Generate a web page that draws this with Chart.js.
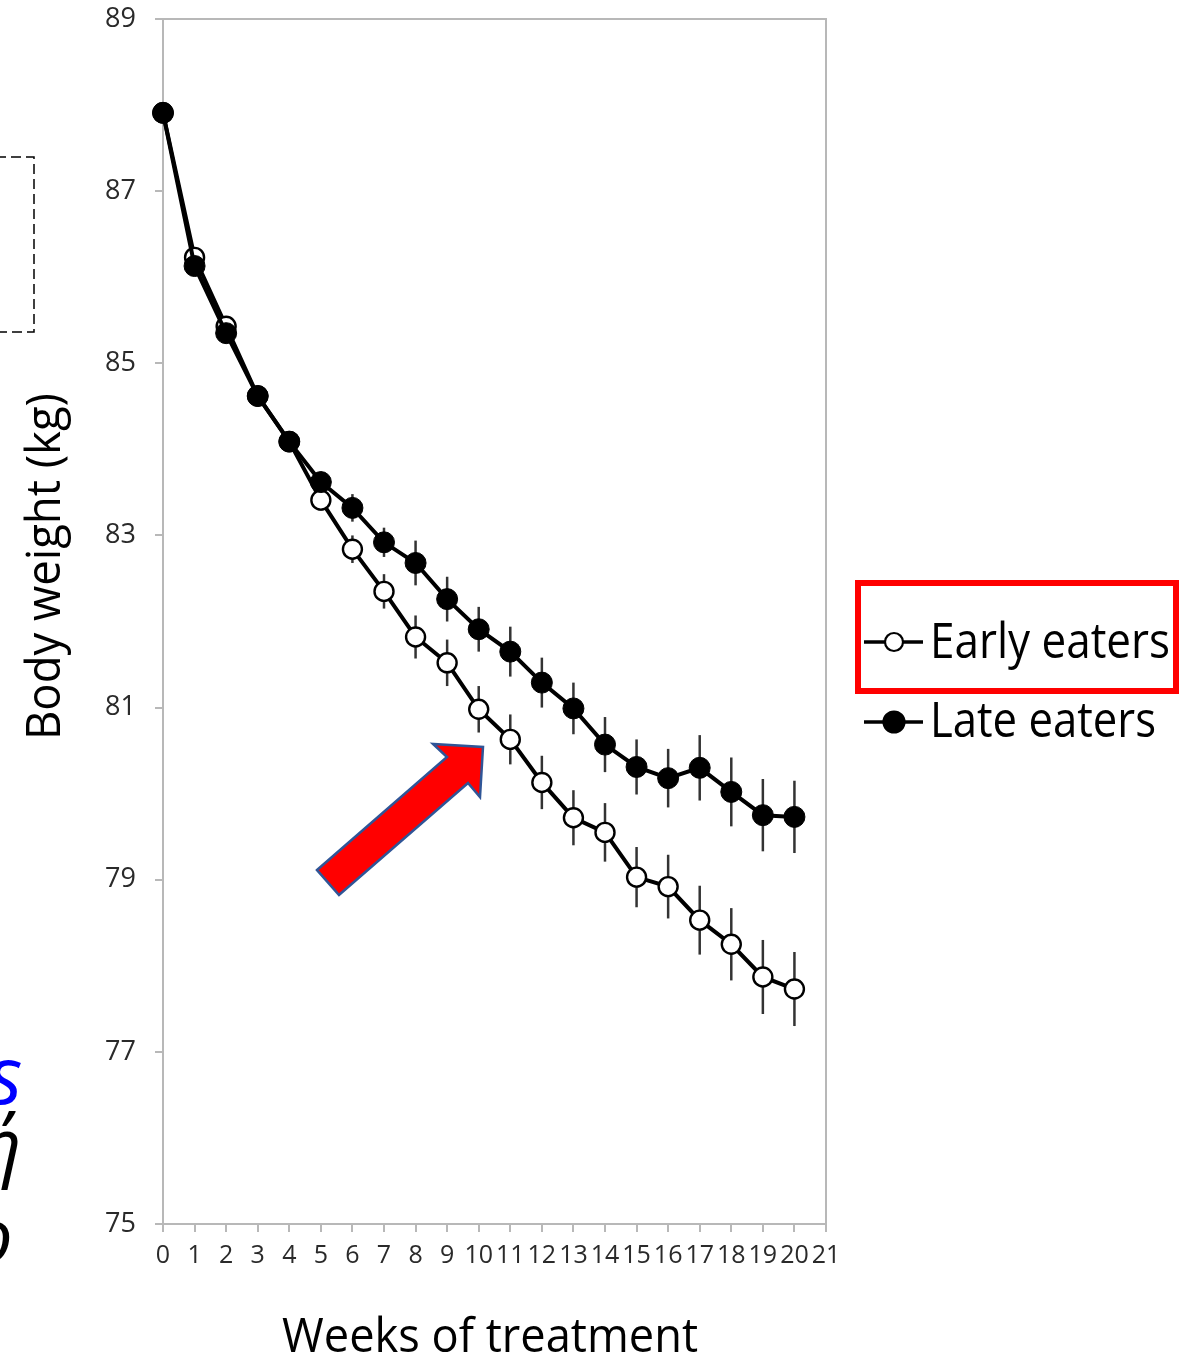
<!DOCTYPE html>
<html>
<head>
<meta charset="utf-8">
<script src="https://cdn.jsdelivr.net/npm/chart.js@4.4.1/dist/chart.umd.min.js"></script>
<style>
html,body{margin:0;padding:0;background:#fff;overflow:hidden}
#c{display:block}
</style>
</head>
<body>
<canvas id="c" width="1183" height="1357"></canvas>
<script>
// ---- data ----
const weeks = [0,1,2,3,4,5,6,7,8,9,10,11,12,13,14,15,16,17,18,19,20];
const xTickLabels = [0,1,2,3,4,5,6,7,8,9,10,11,12,13,14,15,16,17,18,19,20,21];
const yTickLabels = [75,77,79,81,83,85,87,89];
const earlyEaters = [87.91,86.23,85.43,84.62,84.09,83.41,82.84,82.35,81.82,81.52,80.98,80.63,80.13,79.72,79.55,79.03,78.92,78.53,78.25,77.87,77.73];
const earlyErr    = [0,0.04,0.05,0.07,0.09,0.12,0.16,0.20,0.25,0.27,0.27,0.29,0.31,0.32,0.34,0.35,0.37,0.40,0.42,0.43,0.43];
const lateEaters  = [87.91,86.13,85.35,84.62,84.09,83.62,83.32,82.92,82.68,82.26,81.91,81.65,81.29,80.99,80.57,80.31,80.18,80.30,80.02,79.75,79.73];
const lateErr     = [0,0.04,0.05,0.07,0.09,0.12,0.16,0.17,0.26,0.26,0.26,0.29,0.29,0.30,0.32,0.32,0.34,0.38,0.40,0.42,0.42];
const seriesNames = ['Early eaters','Late eaters'];
const xTitle = 'Weeks of treatment';
const yTitle = 'Body weight (kg)';
const fragments = ['s','ή','ο'];

const FONT = '"Open Sans", "Noto Sans", sans-serif';
const AXIS_GRAY = '#b8b8b8';

function fitText(ctx, text, x, y, size, targetW, opt) {
  opt = opt || {};
  ctx.save();
  ctx.font = (opt.style || '') + ' ' + size + 'px ' + FONT;
  ctx.fillStyle = opt.color || '#000';
  ctx.textAlign = 'left';
  ctx.textBaseline = 'alphabetic';
  const w = ctx.measureText(text).width;
  ctx.translate(x, y);
  if (opt.rotate) ctx.rotate(-Math.PI / 2);
  if (targetW) ctx.scale(targetW / w, 1);
  ctx.fillText(text, 0, 0);
  ctx.restore();
}

const errorBars = {
  id: 'errorBars',
  beforeDatasetsDraw(chart) {
    const {ctx, scales: {x, y}} = chart;
    const sets = [[earlyEaters, earlyErr], [lateEaters, lateErr]];
    ctx.save();
    ctx.strokeStyle = '#333';
    ctx.lineWidth = 2.5;
    sets.forEach(([vals, errs]) => {
      weeks.forEach((w, i) => {
        if (!errs[i]) return;
        const px = x.getPixelForValue(w);
        ctx.beginPath();
        ctx.moveTo(px, y.getPixelForValue(vals[i] + errs[i]));
        ctx.lineTo(px, y.getPixelForValue(vals[i] - errs[i]));
        ctx.stroke();
      });
    });
    ctx.restore();
  }
};

const frameAndDecor = {
  id: 'frameAndDecor',
  beforeDraw(chart) {
    const {ctx, chartArea: a} = chart;
    ctx.save();
    ctx.fillStyle = '#fff';
    ctx.fillRect(0, 0, chart.width, chart.height);
    ctx.strokeStyle = AXIS_GRAY;
    ctx.lineWidth = 2;
    ctx.beginPath();
    ctx.moveTo(a.left, a.top);
    ctx.lineTo(a.right, a.top);
    ctx.lineTo(a.right, a.bottom);
    ctx.stroke();
    ctx.restore();
  },
  afterDraw(chart) {
    const {ctx} = chart;
    ctx.save();
    // axis titles
    fitText(ctx, xTitle, 282, 1352, 48, 416);
    fitText(ctx, yTitle, 60, 740, 47, 347, {rotate: true});

    // legend
    const legendRows = [
      {y: 642, filled: false, name: seriesNames[0], base: 658, w: 240},
      {y: 722, filled: true, name: seriesNames[1], base: 737, w: 226}
    ];
    legendRows.forEach(r => {
      ctx.strokeStyle = '#000';
      ctx.lineWidth = 3.5;
      ctx.beginPath();
      ctx.moveTo(864, r.y); ctx.lineTo(923, r.y);
      ctx.stroke();
      ctx.beginPath();
      ctx.arc(894, r.y, r.filled ? 10.5 : 9, 0, Math.PI * 2);
      ctx.fillStyle = r.filled ? '#000' : '#fff';
      ctx.fill();
      ctx.lineWidth = 2.2;
      ctx.stroke();
      fitText(ctx, r.name, 930, r.base, 49, r.w);
    });

    // red highlight box
    ctx.strokeStyle = '#ff0000';
    ctx.lineWidth = 6;
    ctx.strokeRect(858, 583, 318, 108);

    // red arrow
    const arrow = [[317,870],[447,757],[433,744],[483,747],[480,797],[468,783],[339,895]];
    ctx.beginPath();
    arrow.forEach((p, i) => i ? ctx.lineTo(p[0], p[1]) : ctx.moveTo(p[0], p[1]));
    ctx.closePath();
    ctx.fillStyle = '#ff0000';
    ctx.fill();
    ctx.strokeStyle = '#2f5597';
    ctx.lineWidth = 2.5;
    ctx.lineJoin = 'miter';
    ctx.stroke();

    // dashed box (clipped at left)
    ctx.setLineDash([10, 5]);
    ctx.strokeStyle = '#000';
    ctx.lineWidth = 1.5;
    ctx.beginPath();
    ctx.moveTo(-4, 157); ctx.lineTo(34, 157); ctx.lineTo(34, 332); ctx.lineTo(-4, 332);
    ctx.stroke();
    ctx.setLineDash([]);

    // clipped text fragments at left edge
    fitText(ctx, fragments[0], -12, 1104, 80, null, {style: 'italic', color: '#0000ff'});
    fitText(ctx, fragments[1], -22, 1172, 76, null, {style: 'italic', color: '#000'});
    fitText(ctx, fragments[2], -30, 1262, 76, null, {style: 'italic', color: '#000'});
    ctx.restore();
  }
};

new Chart(document.getElementById('c'), {
  type: 'line',
  data: {
    datasets: [
      {
        label: seriesNames[1],
        data: weeks.map((w, i) => ({x: w, y: lateEaters[i]})),
        borderColor: '#000', borderWidth: 4,
        pointRadius: 10.5, pointBackgroundColor: '#000', pointBorderColor: '#000', pointBorderWidth: 1,
        tension: 0, order: 0, clip: false
      },
      {
        label: seriesNames[0],
        data: weeks.map((w, i) => ({x: w, y: earlyEaters[i]})),
        borderColor: '#000', borderWidth: 4,
        pointRadius: 9.5, pointBackgroundColor: '#fff', pointBorderColor: '#000', pointBorderWidth: 2.4,
        tension: 0, order: 1, clip: false
      }
    ]
  },
  options: {
    responsive: false,
    animation: false,
    devicePixelRatio: 1,
    layout: {padding: {left: 0, top: 19, right: 357, bottom: 0}},
    plugins: {legend: {display: false}, tooltip: {enabled: false}},
    scales: {
      x: {
        type: 'linear', min: xTickLabels[0], max: xTickLabels[xTickLabels.length - 1],
        afterBuildTicks(s) { s.ticks = xTickLabels.map(v => ({value: v})); },
        ticks: {stepSize: 1, autoSkip: false, maxRotation: 0, color: '#2a2a2a', padding: 9,
                font: {family: FONT, size: 25}},
        grid: {drawOnChartArea: false, color: AXIS_GRAY, lineWidth: 2, tickLength: 8},
        border: {color: AXIS_GRAY, width: 2},
        afterFit(s) { s.height = 133; s.paddingLeft = 0; s.paddingRight = 0; }
      },
      y: {
        type: 'linear', min: yTickLabels[0], max: yTickLabels[yTickLabels.length - 1],
        afterBuildTicks(s) { s.ticks = yTickLabels.map(v => ({value: v})); },
        ticks: {stepSize: 2, color: '#2a2a2a', padding: 19, font: {family: FONT, size: 27}},
        grid: {drawOnChartArea: false, color: AXIS_GRAY, lineWidth: 2, tickLength: 8},
        border: {color: AXIS_GRAY, width: 2},
        afterFit(s) { s.width = 163; s.paddingTop = 0; s.paddingBottom = 0; }
      }
    }
  },
  plugins: [frameAndDecor, errorBars]
});
</script>
</body>
</html>
